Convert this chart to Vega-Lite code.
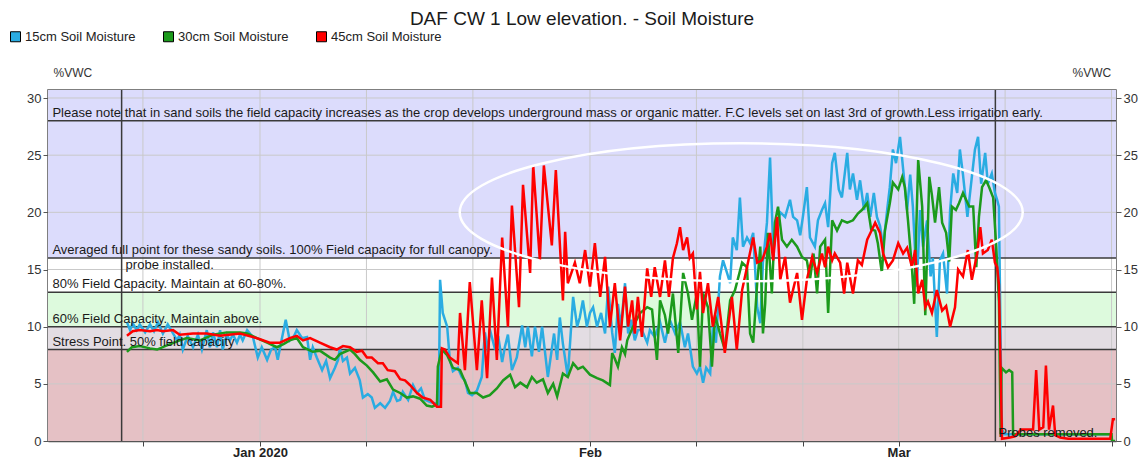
{
"$schema":"https://vega.github.io/schema/vega-lite/v6.json",
"width":1068,"height":351,
"autosize":"none",
"padding":{"left":48,"top":90,"right":24,"bottom":23},
"background":"white",
"title":{"text":"DAF CW 1 Low elevation. - Soil Moisture","anchor":"middle","frame":"group","fontSize":19,"fontWeight":"normal","font":"Liberation Sans","color":"#1a1a1a","offset":1},
"config":{"view":{"stroke":"#555","strokeWidth":1.5},"font":"Liberation Sans"},
"resolve":{"axis":{"y":"independent"}},
"datasets":{
"bands":[{"zone":"stress","v":0,"v2":8},{"zone":"low","v":8,"v2":10},{"zone":"mid","v":10,"v2":13},{"zone":"ok","v":13,"v2":16},{"zone":"full","v":16,"v2":31}],
"gridh":[{"v":5},{"v":15},{"v":20},{"v":25},{"v":30}],
"gridv":[{"t":"2019-12-21T00:00Z"},{"t":"2020-01-01T00:00Z"},{"t":"2020-01-11T00:00Z"},{"t":"2020-01-21T00:00Z"},{"t":"2020-02-01T00:00Z"},{"t":"2020-02-11T00:00Z"},{"t":"2020-02-21T00:00Z"},{"t":"2020-03-01T00:00Z"},{"t":"2020-03-11T00:00Z"},{"t":"2020-03-21T00:00Z"}],
"hlines":[{"v":8},{"v":10},{"v":13},{"v":16},{"v":28}],
"vlines":[{"t":"2019-12-19T00:00Z"},{"t":"2020-03-10T02:00Z"}],
"notesAbove":[
{"t":"2019-12-12T12:00Z","v":28,"label":"Please note that in sand soils the field capacity increases as the crop develops underground mass or organic matter. F.C levels set on last 3rd of growth.Less irrigation early."},
{"t":"2019-12-12T12:00Z","v":16,"label":"Averaged full point for these sandy soils. 100% Field capacity for full canopy."},
{"t":"2019-12-12T12:00Z","v":13,"label":"80% Field Capacity. Maintain at 60-80%."},
{"t":"2019-12-12T12:00Z","v":10,"label":"60% Field Capacity. Maintain above."},
{"t":"2019-12-12T12:00Z","v":8,"label":"Stress Point. 50% field capacity"},
{"t":"2020-03-10T09:00Z","v":0,"label":"Probes removed."}],
"notesBelow":[{"t":"2019-12-19T09:00Z","v":16,"label":"probe installed."}],
"ellipse":[{"t":"2020-02-15T05:00Z","v":20.0}],
"series":[{"s":"15cm Soil Moisture"},{"s":"30cm Soil Moisture"},{"s":"45cm Soil Moisture"}],
"d15":[
{"t":"2019-12-19T12:00Z","v":10.4},{"t":"2019-12-19T19:00Z","v":9.7},{"t":"2019-12-20T01:00Z","v":10.3},{"t":"2019-12-20T10:00Z","v":9.7},{"t":"2019-12-20T17:00Z","v":10.2},{"t":"2019-12-21T05:00Z","v":9.5},{"t":"2019-12-21T16:00Z","v":10.2},{"t":"2019-12-22T01:00Z","v":9.6},{"t":"2019-12-22T10:00Z","v":10.4},{"t":"2019-12-22T21:00Z","v":9.4},{"t":"2019-12-23T08:00Z","v":10.2},{"t":"2019-12-23T17:00Z","v":9.6},{"t":"2019-12-24T05:00Z","v":8.8},{"t":"2019-12-24T11:00Z","v":9.3},{"t":"2019-12-24T18:00Z","v":8.0},{"t":"2019-12-25T05:00Z","v":9.2},{"t":"2019-12-25T17:00Z","v":8.2},{"t":"2019-12-26T04:00Z","v":9.3},{"t":"2019-12-26T13:00Z","v":8.0},{"t":"2019-12-27T00:00Z","v":9.7},{"t":"2019-12-27T07:00Z","v":8.2},{"t":"2019-12-27T14:00Z","v":9.5},{"t":"2019-12-27T23:00Z","v":8.2},{"t":"2019-12-28T06:00Z","v":9.7},{"t":"2019-12-28T12:00Z","v":8.0},{"t":"2019-12-28T21:00Z","v":9.3},{"t":"2019-12-29T04:00Z","v":8.8},{"t":"2019-12-29T11:00Z","v":9.3},{"t":"2019-12-29T20:00Z","v":8.6},{"t":"2019-12-30T03:00Z","v":9.3},{"t":"2019-12-30T09:00Z","v":8.8},{"t":"2019-12-30T19:00Z","v":9.7},{"t":"2019-12-31T08:00Z","v":9.1},{"t":"2019-12-31T19:00Z","v":7.3},{"t":"2020-01-01T04:00Z","v":8.2},{"t":"2020-01-01T16:00Z","v":7.1},{"t":"2020-01-02T01:00Z","v":8.0},{"t":"2020-01-02T10:00Z","v":8.2},{"t":"2020-01-02T16:00Z","v":7.1},{"t":"2020-01-03T01:00Z","v":8.9},{"t":"2020-01-03T10:00Z","v":10.6},{"t":"2020-01-03T19:00Z","v":8.8},{"t":"2020-01-04T05:00Z","v":9.2},{"t":"2020-01-04T11:00Z","v":9.7},{"t":"2020-01-04T23:00Z","v":9.0},{"t":"2020-01-05T10:00Z","v":9.1},{"t":"2020-01-05T17:00Z","v":7.1},{"t":"2020-01-05T23:00Z","v":8.2},{"t":"2020-01-06T08:00Z","v":7.3},{"t":"2020-01-06T20:00Z","v":6.2},{"t":"2020-01-07T05:00Z","v":7.0},{"t":"2020-01-07T14:00Z","v":5.5},{"t":"2020-01-08T01:00Z","v":6.4},{"t":"2020-01-08T08:00Z","v":7.1},{"t":"2020-01-08T12:00Z","v":8.1},{"t":"2020-01-08T19:00Z","v":7.0},{"t":"2020-01-09T04:00Z","v":7.3},{"t":"2020-01-09T11:00Z","v":5.9},{"t":"2020-01-09T22:00Z","v":6.4},{"t":"2020-01-10T09:00Z","v":5.3},{"t":"2020-01-10T16:00Z","v":3.8},{"t":"2020-01-11T03:00Z","v":4.1},{"t":"2020-01-11T12:00Z","v":3.8},{"t":"2020-01-11T19:00Z","v":2.9},{"t":"2020-01-12T07:00Z","v":3.3},{"t":"2020-01-12T18:00Z","v":2.9},{"t":"2020-01-13T05:00Z","v":3.5},{"t":"2020-01-13T12:00Z","v":4.3},{"t":"2020-01-13T21:00Z","v":3.5},{"t":"2020-01-14T04:00Z","v":3.6},{"t":"2020-01-14T10:00Z","v":4.3},{"t":"2020-01-14T22:00Z","v":3.6},{"t":"2020-01-15T09:00Z","v":4.9},{"t":"2020-01-15T18:00Z","v":4.2},{"t":"2020-01-16T03:00Z","v":4.6},{"t":"2020-01-16T12:00Z","v":3.6},{"t":"2020-01-17T00:00Z","v":3.4},{"t":"2020-01-17T10:00Z","v":3.3},{"t":"2020-01-17T19:00Z","v":3.1},{"t":"2020-01-17T22:00Z","v":14.1},{"t":"2020-01-18T04:00Z","v":11.2},{"t":"2020-01-18T14:00Z","v":10.0},{"t":"2020-01-18T20:00Z","v":7.1},{"t":"2020-01-19T03:00Z","v":6.1},{"t":"2020-01-19T14:00Z","v":6.4},{"t":"2020-01-19T23:00Z","v":5.6},{"t":"2020-01-20T06:00Z","v":5.3},{"t":"2020-01-20T13:00Z","v":4.2},{"t":"2020-01-20T22:00Z","v":4.0},{"t":"2020-01-21T09:00Z","v":4.4},{"t":"2020-01-21T20:00Z","v":5.6},{"t":"2020-01-22T03:00Z","v":9.5},{"t":"2020-01-22T10:00Z","v":7.8},{"t":"2020-01-22T14:00Z","v":9.8},{"t":"2020-01-23T02:00Z","v":8.0},{"t":"2020-01-23T09:00Z","v":9.2},{"t":"2020-01-23T18:00Z","v":6.9},{"t":"2020-01-24T00:00Z","v":8.2},{"t":"2020-01-24T07:00Z","v":9.3},{"t":"2020-01-24T16:00Z","v":6.2},{"t":"2020-01-25T03:00Z","v":7.3},{"t":"2020-01-25T15:00Z","v":10.1},{"t":"2020-01-25T22:00Z","v":8.2},{"t":"2020-01-26T04:00Z","v":10.0},{"t":"2020-01-26T13:00Z","v":7.4},{"t":"2020-01-26T20:00Z","v":10.0},{"t":"2020-01-27T05:00Z","v":7.8},{"t":"2020-01-27T12:00Z","v":10.0},{"t":"2020-01-28T01:00Z","v":5.6},{"t":"2020-01-28T15:00Z","v":9.4},{"t":"2020-01-28T22:00Z","v":7.1},{"t":"2020-01-29T04:00Z","v":10.8},{"t":"2020-01-29T11:00Z","v":8.5},{"t":"2020-01-29T22:00Z","v":5.6},{"t":"2020-01-30T10:00Z","v":12.6},{"t":"2020-01-30T19:00Z","v":10.0},{"t":"2020-01-31T01:00Z","v":10.8},{"t":"2020-01-31T08:00Z","v":12.3},{"t":"2020-01-31T17:00Z","v":10.0},{"t":"2020-02-01T00:00Z","v":11.2},{"t":"2020-02-01T07:00Z","v":11.7},{"t":"2020-02-01T16:00Z","v":10.0},{"t":"2020-02-02T01:00Z","v":11.2},{"t":"2020-02-02T10:00Z","v":9.4},{"t":"2020-02-02T17:00Z","v":13.5},{"t":"2020-02-03T02:00Z","v":9.5},{"t":"2020-02-03T08:00Z","v":7.7},{"t":"2020-02-03T15:00Z","v":12.0},{"t":"2020-02-03T22:00Z","v":10.0},{"t":"2020-02-04T07:00Z","v":13.8},{"t":"2020-02-04T14:00Z","v":9.4},{"t":"2020-02-04T21:00Z","v":10.6},{"t":"2020-02-05T05:00Z","v":8.8},{"t":"2020-02-05T12:00Z","v":9.7},{"t":"2020-02-05T21:00Z","v":9.7},{"t":"2020-02-06T09:00Z","v":8.6},{"t":"2020-02-06T15:00Z","v":9.7},{"t":"2020-02-07T02:00Z","v":9.1},{"t":"2020-02-07T14:00Z","v":10.4},{"t":"2020-02-08T01:00Z","v":8.6},{"t":"2020-02-08T12:00Z","v":10.6},{"t":"2020-02-09T00:00Z","v":9.4},{"t":"2020-02-09T11:00Z","v":10.4},{"t":"2020-02-09T22:00Z","v":8.2},{"t":"2020-02-10T05:00Z","v":9.4},{"t":"2020-02-10T16:00Z","v":6.5},{"t":"2020-02-11T01:00Z","v":5.9},{"t":"2020-02-11T08:00Z","v":6.5},{"t":"2020-02-11T15:00Z","v":5.1},{"t":"2020-02-11T22:00Z","v":6.4},{"t":"2020-02-12T07:00Z","v":5.9},{"t":"2020-02-12T13:00Z","v":10.0},{"t":"2020-02-12T20:00Z","v":8.6},{"t":"2020-02-13T05:00Z","v":14.4},{"t":"2020-02-13T12:00Z","v":15.8},{"t":"2020-02-13T21:00Z","v":14.7},{"t":"2020-02-14T04:00Z","v":13.8},{"t":"2020-02-14T10:00Z","v":17.8},{"t":"2020-02-14T19:00Z","v":16.7},{"t":"2020-02-15T02:00Z","v":21.3},{"t":"2020-02-15T09:00Z","v":17.0},{"t":"2020-02-15T18:00Z","v":17.8},{"t":"2020-02-16T01:00Z","v":17.3},{"t":"2020-02-16T08:00Z","v":18.2},{"t":"2020-02-16T17:00Z","v":11.7},{"t":"2020-02-17T00:00Z","v":10.3},{"t":"2020-02-17T06:00Z","v":15.6},{"t":"2020-02-17T15:00Z","v":19.1},{"t":"2020-02-17T22:00Z","v":24.8},{"t":"2020-02-18T05:00Z","v":17.0},{"t":"2020-02-18T14:00Z","v":18.8},{"t":"2020-02-18T21:00Z","v":20.0},{"t":"2020-02-19T08:00Z","v":19.6},{"t":"2020-02-19T19:00Z","v":21.1},{"t":"2020-02-20T02:00Z","v":19.6},{"t":"2020-02-20T11:00Z","v":19.3},{"t":"2020-02-20T18:00Z","v":18.0},{"t":"2020-02-21T00:00Z","v":19.6},{"t":"2020-02-21T09:00Z","v":22.2},{"t":"2020-02-21T16:00Z","v":17.8},{"t":"2020-02-22T03:00Z","v":17.0},{"t":"2020-02-22T10:00Z","v":19.3},{"t":"2020-02-22T19:00Z","v":20.2},{"t":"2020-02-23T02:00Z","v":20.8},{"t":"2020-02-23T09:00Z","v":18.7},{"t":"2020-02-23T18:00Z","v":24.3},{"t":"2020-02-24T00:00Z","v":25.2},{"t":"2020-02-24T09:00Z","v":22.0},{"t":"2020-02-24T16:00Z","v":21.3},{"t":"2020-02-25T04:00Z","v":25.2},{"t":"2020-02-25T10:00Z","v":22.0},{"t":"2020-02-25T17:00Z","v":23.4},{"t":"2020-02-26T02:00Z","v":21.1},{"t":"2020-02-26T09:00Z","v":22.8},{"t":"2020-02-26T18:00Z","v":20.2},{"t":"2020-02-27T01:00Z","v":21.7},{"t":"2020-02-27T08:00Z","v":19.6},{"t":"2020-02-27T16:00Z","v":21.7},{"t":"2020-02-27T23:00Z","v":19.6},{"t":"2020-02-28T06:00Z","v":18.8},{"t":"2020-02-28T13:00Z","v":17.0},{"t":"2020-02-28T22:00Z","v":20.2},{"t":"2020-02-29T04:00Z","v":22.2},{"t":"2020-02-29T11:00Z","v":25.5},{"t":"2020-02-29T18:00Z","v":24.3},{"t":"2020-03-01T03:00Z","v":26.6},{"t":"2020-03-01T10:00Z","v":23.8},{"t":"2020-03-01T19:00Z","v":20.2},{"t":"2020-03-02T02:00Z","v":23.3},{"t":"2020-03-02T08:00Z","v":20.5},{"t":"2020-03-02T17:00Z","v":13.5},{"t":"2020-03-03T00:00Z","v":20.2},{"t":"2020-03-03T07:00Z","v":17.0},{"t":"2020-03-03T16:00Z","v":19.3},{"t":"2020-03-04T00:00Z","v":14.4},{"t":"2020-03-04T05:00Z","v":16.0},{"t":"2020-03-04T14:00Z","v":9.1},{"t":"2020-03-04T21:00Z","v":15.8},{"t":"2020-03-05T04:00Z","v":16.4},{"t":"2020-03-05T13:00Z","v":12.9},{"t":"2020-03-05T20:00Z","v":20.2},{"t":"2020-03-06T03:00Z","v":23.4},{"t":"2020-03-06T12:00Z","v":21.7},{"t":"2020-03-06T18:00Z","v":25.5},{"t":"2020-03-07T01:00Z","v":23.3},{"t":"2020-03-07T11:00Z","v":19.6},{"t":"2020-03-07T21:00Z","v":23.1},{"t":"2020-03-08T04:00Z","v":25.5},{"t":"2020-03-08T11:00Z","v":26.6},{"t":"2020-03-08T18:00Z","v":22.5},{"t":"2020-03-09T03:00Z","v":25.2},{"t":"2020-03-09T09:00Z","v":22.5},{"t":"2020-03-09T18:00Z","v":23.4},{"t":"2020-03-10T01:00Z","v":21.7},{"t":"2020-03-10T06:00Z","v":21.1},{"t":"2020-03-10T10:00Z","v":20.5},{"t":"2020-03-10T15:00Z","v":5.0},{"t":"2020-03-10T17:00Z","v":1.0},{"t":"2020-03-10T22:00Z","v":0.6},{"t":"2020-03-21T00:00Z","v":0.6}],
"d30":[
{"t":"2019-12-19T12:00Z","v":7.8},{"t":"2019-12-19T23:00Z","v":8.2},{"t":"2019-12-20T17:00Z","v":8.3},{"t":"2019-12-21T16:00Z","v":8.1},{"t":"2019-12-22T08:00Z","v":8.0},{"t":"2019-12-23T02:00Z","v":8.3},{"t":"2019-12-24T11:00Z","v":8.8},{"t":"2019-12-25T03:00Z","v":9.0},{"t":"2019-12-26T09:00Z","v":8.8},{"t":"2019-12-27T14:00Z","v":9.3},{"t":"2019-12-28T21:00Z","v":9.5},{"t":"2019-12-30T03:00Z","v":9.5},{"t":"2019-12-30T19:00Z","v":9.4},{"t":"2019-12-31T17:00Z","v":9.0},{"t":"2020-01-01T16:00Z","v":8.6},{"t":"2020-01-02T14:00Z","v":8.2},{"t":"2020-01-03T06:00Z","v":8.5},{"t":"2020-01-03T19:00Z","v":8.8},{"t":"2020-01-04T11:00Z","v":9.0},{"t":"2020-01-05T01:00Z","v":8.2},{"t":"2020-01-05T23:00Z","v":7.8},{"t":"2020-01-06T15:00Z","v":7.9},{"t":"2020-01-07T14:00Z","v":7.3},{"t":"2020-01-08T01:00Z","v":7.1},{"t":"2020-01-08T12:00Z","v":7.6},{"t":"2020-01-09T11:00Z","v":8.0},{"t":"2020-01-09T22:00Z","v":7.6},{"t":"2020-01-10T09:00Z","v":7.1},{"t":"2020-01-11T01:00Z","v":6.6},{"t":"2020-01-11T15:00Z","v":6.0},{"t":"2020-01-12T07:00Z","v":5.2},{"t":"2020-01-12T22:00Z","v":5.4},{"t":"2020-01-13T12:00Z","v":4.5},{"t":"2020-01-14T04:00Z","v":4.2},{"t":"2020-01-14T19:00Z","v":3.8},{"t":"2020-01-15T09:00Z","v":3.9},{"t":"2020-01-16T01:00Z","v":3.7},{"t":"2020-01-16T16:00Z","v":3.1},{"t":"2020-01-17T04:00Z","v":3.0},{"t":"2020-01-17T15:00Z","v":3.2},{"t":"2020-01-17T17:00Z","v":6.5},{"t":"2020-01-18T02:00Z","v":8.0},{"t":"2020-01-18T14:00Z","v":7.5},{"t":"2020-01-19T03:00Z","v":6.4},{"t":"2020-01-19T19:00Z","v":6.2},{"t":"2020-01-20T06:00Z","v":5.2},{"t":"2020-01-20T17:00Z","v":4.2},{"t":"2020-01-21T09:00Z","v":4.2},{"t":"2020-01-21T23:00Z","v":3.8},{"t":"2020-01-22T14:00Z","v":4.0},{"t":"2020-01-23T06:00Z","v":4.6},{"t":"2020-01-23T20:00Z","v":5.3},{"t":"2020-01-24T12:00Z","v":5.8},{"t":"2020-01-24T23:00Z","v":4.7},{"t":"2020-01-25T11:00Z","v":5.1},{"t":"2020-01-26T02:00Z","v":4.7},{"t":"2020-01-26T13:00Z","v":5.6},{"t":"2020-01-27T00:00Z","v":5.1},{"t":"2020-01-27T14:00Z","v":5.4},{"t":"2020-01-28T01:00Z","v":4.2},{"t":"2020-01-28T13:00Z","v":5.0},{"t":"2020-01-28T22:00Z","v":3.9},{"t":"2020-01-29T11:00Z","v":5.9},{"t":"2020-01-29T22:00Z","v":5.6},{"t":"2020-01-30T10:00Z","v":6.8},{"t":"2020-01-30T21:00Z","v":6.3},{"t":"2020-01-31T08:00Z","v":6.5},{"t":"2020-02-01T00:00Z","v":5.8},{"t":"2020-02-01T16:00Z","v":5.5},{"t":"2020-02-02T05:00Z","v":5.3},{"t":"2020-02-02T17:00Z","v":5.0},{"t":"2020-02-02T21:00Z","v":4.9},{"t":"2020-02-03T02:00Z","v":7.7},{"t":"2020-02-03T08:00Z","v":7.2},{"t":"2020-02-03T15:00Z","v":6.5},{"t":"2020-02-04T00:00Z","v":8.2},{"t":"2020-02-04T07:00Z","v":7.6},{"t":"2020-02-04T12:00Z","v":8.8},{"t":"2020-02-05T01:00Z","v":10.0},{"t":"2020-02-05T17:00Z","v":11.2},{"t":"2020-02-06T09:00Z","v":11.7},{"t":"2020-02-06T20:00Z","v":11.5},{"t":"2020-02-07T07:00Z","v":7.1},{"t":"2020-02-07T14:00Z","v":12.3},{"t":"2020-02-08T01:00Z","v":11.0},{"t":"2020-02-08T08:00Z","v":9.4},{"t":"2020-02-08T19:00Z","v":12.9},{"t":"2020-02-09T07:00Z","v":7.7},{"t":"2020-02-09T18:00Z","v":14.7},{"t":"2020-02-10T05:00Z","v":12.9},{"t":"2020-02-10T14:00Z","v":10.6},{"t":"2020-02-11T01:00Z","v":12.9},{"t":"2020-02-11T08:00Z","v":6.5},{"t":"2020-02-11T15:00Z","v":12.9},{"t":"2020-02-12T02:00Z","v":11.7},{"t":"2020-02-12T11:00Z","v":6.5},{"t":"2020-02-12T18:00Z","v":11.0},{"t":"2020-02-13T05:00Z","v":9.4},{"t":"2020-02-13T16:00Z","v":8.0},{"t":"2020-02-14T04:00Z","v":12.3},{"t":"2020-02-14T15:00Z","v":13.2},{"t":"2020-02-15T07:00Z","v":15.6},{"t":"2020-02-15T18:00Z","v":15.2},{"t":"2020-02-16T01:00Z","v":9.4},{"t":"2020-02-16T08:00Z","v":8.6},{"t":"2020-02-16T17:00Z","v":13.8},{"t":"2020-02-17T00:00Z","v":17.0},{"t":"2020-02-17T06:00Z","v":9.4},{"t":"2020-02-17T11:00Z","v":12.0},{"t":"2020-02-17T17:00Z","v":18.2},{"t":"2020-02-18T02:00Z","v":12.9},{"t":"2020-02-18T09:00Z","v":19.1},{"t":"2020-02-18T16:00Z","v":20.5},{"t":"2020-02-19T01:00Z","v":17.6},{"t":"2020-02-19T12:00Z","v":17.0},{"t":"2020-02-19T23:00Z","v":17.6},{"t":"2020-02-20T11:00Z","v":17.0},{"t":"2020-02-20T22:00Z","v":16.1},{"t":"2020-02-21T09:00Z","v":15.8},{"t":"2020-02-21T16:00Z","v":14.1},{"t":"2020-02-22T00:00Z","v":16.4},{"t":"2020-02-22T08:00Z","v":12.9},{"t":"2020-02-22T15:00Z","v":17.0},{"t":"2020-02-23T02:00Z","v":17.6},{"t":"2020-02-23T09:00Z","v":11.2},{"t":"2020-02-23T18:00Z","v":19.3},{"t":"2020-02-24T05:00Z","v":18.4},{"t":"2020-02-24T16:00Z","v":19.3},{"t":"2020-02-25T04:00Z","v":19.1},{"t":"2020-02-25T17:00Z","v":19.3},{"t":"2020-02-26T04:00Z","v":19.9},{"t":"2020-02-26T13:00Z","v":20.2},{"t":"2020-02-27T01:00Z","v":20.8},{"t":"2020-02-27T10:00Z","v":18.5},{"t":"2020-02-27T19:00Z","v":18.4},{"t":"2020-02-28T01:00Z","v":17.3},{"t":"2020-02-28T10:00Z","v":14.7},{"t":"2020-02-28T17:00Z","v":18.4},{"t":"2020-02-29T04:00Z","v":20.8},{"t":"2020-02-29T11:00Z","v":22.6},{"t":"2020-02-29T23:00Z","v":22.0},{"t":"2020-03-01T08:00Z","v":23.1},{"t":"2020-03-01T14:00Z","v":22.2},{"t":"2020-03-01T21:00Z","v":19.3},{"t":"2020-03-02T06:00Z","v":15.1},{"t":"2020-03-02T11:00Z","v":12.0},{"t":"2020-03-02T20:00Z","v":24.6},{"t":"2020-03-03T05:00Z","v":20.5},{"t":"2020-03-03T12:00Z","v":11.0},{"t":"2020-03-03T21:00Z","v":23.1},{"t":"2020-03-04T03:00Z","v":21.5},{"t":"2020-03-04T10:00Z","v":19.1},{"t":"2020-03-04T19:00Z","v":22.2},{"t":"2020-03-05T02:00Z","v":19.1},{"t":"2020-03-05T11:00Z","v":18.2},{"t":"2020-03-05T18:00Z","v":15.7},{"t":"2020-03-06T00:00Z","v":20.5},{"t":"2020-03-06T09:00Z","v":20.2},{"t":"2020-03-06T16:00Z","v":20.8},{"t":"2020-03-07T01:00Z","v":21.7},{"t":"2020-03-07T15:00Z","v":20.5},{"t":"2020-03-08T00:00Z","v":20.5},{"t":"2020-03-08T07:00Z","v":15.2},{"t":"2020-03-08T13:00Z","v":19.6},{"t":"2020-03-08T20:00Z","v":22.2},{"t":"2020-03-09T05:00Z","v":22.8},{"t":"2020-03-09T12:00Z","v":22.2},{"t":"2020-03-09T21:00Z","v":21.3},{"t":"2020-03-10T04:00Z","v":17.0},{"t":"2020-03-10T10:00Z","v":12.2},{"t":"2020-03-10T14:00Z","v":0.6},{"t":"2020-03-10T16:00Z","v":6.4},{"t":"2020-03-11T02:00Z","v":6.0},{"t":"2020-03-11T09:00Z","v":6.2},{"t":"2020-03-11T16:00Z","v":6.0},{"t":"2020-03-11T18:00Z","v":0.6},{"t":"2020-03-21T00:00Z","v":0.6},{"t":"2020-03-21T01:00Z","v":0.0},{"t":"2020-03-21T08:00Z","v":0.0}],
"d45":[
{"t":"2019-12-19T12:00Z","v":9.2},{"t":"2019-12-20T01:00Z","v":9.6},{"t":"2019-12-20T17:00Z","v":9.7},{"t":"2019-12-21T16:00Z","v":9.6},{"t":"2019-12-22T08:00Z","v":9.7},{"t":"2019-12-22T21:00Z","v":9.6},{"t":"2019-12-23T20:00Z","v":9.7},{"t":"2019-12-24T11:00Z","v":9.3},{"t":"2019-12-25T17:00Z","v":9.4},{"t":"2019-12-27T00:00Z","v":9.4},{"t":"2019-12-28T06:00Z","v":9.2},{"t":"2019-12-30T03:00Z","v":9.4},{"t":"2019-12-31T08:00Z","v":9.1},{"t":"2020-01-01T00:00Z","v":8.9},{"t":"2020-01-01T22:00Z","v":8.6},{"t":"2020-01-02T21:00Z","v":8.6},{"t":"2020-01-03T19:00Z","v":9.0},{"t":"2020-01-04T11:00Z","v":9.2},{"t":"2020-01-05T01:00Z","v":8.8},{"t":"2020-01-05T17:00Z","v":9.0},{"t":"2020-01-06T15:00Z","v":8.6},{"t":"2020-01-07T14:00Z","v":8.2},{"t":"2020-01-08T05:00Z","v":8.0},{"t":"2020-01-08T19:00Z","v":8.3},{"t":"2020-01-09T11:00Z","v":8.2},{"t":"2020-01-10T02:00Z","v":7.8},{"t":"2020-01-10T14:00Z","v":7.9},{"t":"2020-01-11T01:00Z","v":7.3},{"t":"2020-01-11T12:00Z","v":7.3},{"t":"2020-01-12T02:00Z","v":6.8},{"t":"2020-01-12T13:00Z","v":6.8},{"t":"2020-01-13T00:00Z","v":6.2},{"t":"2020-01-13T16:00Z","v":6.1},{"t":"2020-01-14T04:00Z","v":5.4},{"t":"2020-01-14T15:00Z","v":5.3},{"t":"2020-01-15T02:00Z","v":4.9},{"t":"2020-01-15T18:00Z","v":4.2},{"t":"2020-01-16T07:00Z","v":3.8},{"t":"2020-01-17T00:00Z","v":3.6},{"t":"2020-01-17T15:00Z","v":3.0},{"t":"2020-01-18T00:00Z","v":3.0},{"t":"2020-01-18T02:00Z","v":8.1},{"t":"2020-01-18T09:00Z","v":8.0},{"t":"2020-01-18T20:00Z","v":7.3},{"t":"2020-01-19T14:00Z","v":6.8},{"t":"2020-01-19T19:00Z","v":11.2},{"t":"2020-01-20T06:00Z","v":6.2},{"t":"2020-01-20T17:00Z","v":13.9},{"t":"2020-01-21T09:00Z","v":6.2},{"t":"2020-01-21T20:00Z","v":12.3},{"t":"2020-01-22T08:00Z","v":5.5},{"t":"2020-01-22T19:00Z","v":14.3},{"t":"2020-01-23T06:00Z","v":7.1},{"t":"2020-01-23T18:00Z","v":17.8},{"t":"2020-01-24T07:00Z","v":10.0},{"t":"2020-01-24T16:00Z","v":20.6},{"t":"2020-01-25T08:00Z","v":11.7},{"t":"2020-01-25T17:00Z","v":22.4},{"t":"2020-01-26T09:00Z","v":14.7},{"t":"2020-01-26T16:00Z","v":24.1},{"t":"2020-01-27T07:00Z","v":15.8},{"t":"2020-01-27T16:00Z","v":24.1},{"t":"2020-01-28T10:00Z","v":17.1},{"t":"2020-01-28T19:00Z","v":23.7},{"t":"2020-01-29T11:00Z","v":12.3},{"t":"2020-01-29T16:00Z","v":18.3},{"t":"2020-01-29T22:00Z","v":13.8},{"t":"2020-01-30T14:00Z","v":15.6},{"t":"2020-01-31T01:00Z","v":13.8},{"t":"2020-01-31T13:00Z","v":16.7},{"t":"2020-02-01T00:00Z","v":13.5},{"t":"2020-02-01T11:00Z","v":17.3},{"t":"2020-02-01T23:00Z","v":12.6},{"t":"2020-02-02T10:00Z","v":16.1},{"t":"2020-02-02T21:00Z","v":10.0},{"t":"2020-02-03T08:00Z","v":13.8},{"t":"2020-02-03T20:00Z","v":8.8},{"t":"2020-02-04T07:00Z","v":13.5},{"t":"2020-02-04T14:00Z","v":10.0},{"t":"2020-02-04T23:00Z","v":12.3},{"t":"2020-02-05T05:00Z","v":9.4},{"t":"2020-02-05T12:00Z","v":12.6},{"t":"2020-02-05T21:00Z","v":9.1},{"t":"2020-02-06T09:00Z","v":15.1},{"t":"2020-02-06T18:00Z","v":12.6},{"t":"2020-02-07T02:00Z","v":15.2},{"t":"2020-02-07T14:00Z","v":12.6},{"t":"2020-02-08T01:00Z","v":15.8},{"t":"2020-02-08T10:00Z","v":12.6},{"t":"2020-02-08T19:00Z","v":16.0},{"t":"2020-02-09T04:00Z","v":17.3},{"t":"2020-02-09T11:00Z","v":18.7},{"t":"2020-02-09T18:00Z","v":16.7},{"t":"2020-02-10T03:00Z","v":17.8},{"t":"2020-02-10T09:00Z","v":16.0},{"t":"2020-02-10T16:00Z","v":16.4},{"t":"2020-02-11T01:00Z","v":11.5},{"t":"2020-02-11T08:00Z","v":14.8},{"t":"2020-02-11T15:00Z","v":11.2},{"t":"2020-02-12T02:00Z","v":13.8},{"t":"2020-02-12T13:00Z","v":10.0},{"t":"2020-02-13T01:00Z","v":12.6},{"t":"2020-02-13T16:00Z","v":7.7},{"t":"2020-02-14T08:00Z","v":12.6},{"t":"2020-02-14T19:00Z","v":8.0},{"t":"2020-02-15T07:00Z","v":13.2},{"t":"2020-02-15T18:00Z","v":15.2},{"t":"2020-02-16T08:00Z","v":17.8},{"t":"2020-02-16T17:00Z","v":15.6},{"t":"2020-02-17T04:00Z","v":15.8},{"t":"2020-02-17T15:00Z","v":17.0},{"t":"2020-02-17T22:00Z","v":18.2},{"t":"2020-02-18T05:00Z","v":15.8},{"t":"2020-02-18T14:00Z","v":19.6},{"t":"2020-02-18T21:00Z","v":14.1},{"t":"2020-02-19T08:00Z","v":16.1},{"t":"2020-02-19T19:00Z","v":12.1},{"t":"2020-02-20T11:00Z","v":14.7},{"t":"2020-02-20T22:00Z","v":10.6},{"t":"2020-02-21T09:00Z","v":14.1},{"t":"2020-02-21T21:00Z","v":16.1},{"t":"2020-02-22T08:00Z","v":14.7},{"t":"2020-02-22T19:00Z","v":16.4},{"t":"2020-02-23T02:00Z","v":15.2},{"t":"2020-02-23T09:00Z","v":17.0},{"t":"2020-02-23T18:00Z","v":15.8},{"t":"2020-02-24T00:00Z","v":16.4},{"t":"2020-02-24T12:00Z","v":15.6},{"t":"2020-02-24T21:00Z","v":12.9},{"t":"2020-02-25T04:00Z","v":15.6},{"t":"2020-02-25T17:00Z","v":12.9},{"t":"2020-02-26T04:00Z","v":15.8},{"t":"2020-02-26T13:00Z","v":15.4},{"t":"2020-02-27T01:00Z","v":17.6},{"t":"2020-02-27T12:00Z","v":18.5},{"t":"2020-02-27T19:00Z","v":19.1},{"t":"2020-02-28T06:00Z","v":18.2},{"t":"2020-02-28T13:00Z","v":16.4},{"t":"2020-02-29T00:00Z","v":15.2},{"t":"2020-02-29T11:00Z","v":15.8},{"t":"2020-02-29T23:00Z","v":17.3},{"t":"2020-03-01T10:00Z","v":16.4},{"t":"2020-03-01T19:00Z","v":16.9},{"t":"2020-03-02T06:00Z","v":15.2},{"t":"2020-03-02T13:00Z","v":16.7},{"t":"2020-03-02T20:00Z","v":12.9},{"t":"2020-03-03T05:00Z","v":14.1},{"t":"2020-03-03T12:00Z","v":11.7},{"t":"2020-03-03T18:00Z","v":12.2},{"t":"2020-03-04T03:00Z","v":11.2},{"t":"2020-03-04T14:00Z","v":13.2},{"t":"2020-03-05T02:00Z","v":11.4},{"t":"2020-03-05T11:00Z","v":11.8},{"t":"2020-03-05T20:00Z","v":10.0},{"t":"2020-03-06T07:00Z","v":11.7},{"t":"2020-03-06T14:00Z","v":15.0},{"t":"2020-03-07T01:00Z","v":14.4},{"t":"2020-03-07T12:00Z","v":16.7},{"t":"2020-03-07T21:00Z","v":14.1},{"t":"2020-03-08T09:00Z","v":16.4},{"t":"2020-03-08T16:00Z","v":18.7},{"t":"2020-03-08T22:00Z","v":16.4},{"t":"2020-03-09T09:00Z","v":16.7},{"t":"2020-03-09T18:00Z","v":17.6},{"t":"2020-03-10T01:00Z","v":15.6},{"t":"2020-03-10T06:00Z","v":15.2},{"t":"2020-03-10T10:00Z","v":13.7},{"t":"2020-03-10T17:00Z","v":0.2},{"t":"2020-03-11T11:00Z","v":0.3},{"t":"2020-03-11T22:00Z","v":0.4},{"t":"2020-03-12T12:00Z","v":1.0},{"t":"2020-03-13T15:00Z","v":1.0},{"t":"2020-03-13T22:00Z","v":6.2},{"t":"2020-03-14T05:00Z","v":1.0},{"t":"2020-03-14T14:00Z","v":1.2},{"t":"2020-03-14T20:00Z","v":6.6},{"t":"2020-03-15T03:00Z","v":1.0},{"t":"2020-03-15T12:00Z","v":3.1},{"t":"2020-03-15T17:00Z","v":0.5},{"t":"2020-03-16T04:00Z","v":0.3},{"t":"2020-03-16T22:00Z","v":0.2},{"t":"2020-03-20T21:00Z","v":0.2},{"t":"2020-03-21T03:00Z","v":1.9},{"t":"2020-03-21T08:00Z","v":1.9}]
},
"layer":[
{"data":{"name":"bands"},"mark":{"type":"rect","clip":true},
 "encoding":{
  "y":{"field":"v","type":"quantitative","scale":{"domain":[0,30.7],"nice":false,"zero":false},
       "axis":{"orient":"left","values":[0,5,10,15,20,25,30],"tickSize":5,"tickColor":"#555","labelPadding":2,"labelFontSize":13,"labelColor":"#333","labelFont":"Liberation Sans","domain":false,"grid":false,
               "title":"%VWC","titleAngle":0,"titleX":5,"titleY":-18,"titleAlign":"left","titleBaseline":"middle","titleFontSize":12,"titleFontWeight":"normal","titleColor":"#333","titleFont":"Liberation Sans"}},
  "y2":{"field":"v2"},
  "color":{"field":"zone","type":"nominal","legend":null,"scale":{"domain":["stress","low","mid","ok","full"],"range":["#e5c1c5","#e3dde3","#ddfadd","#ffffff","#dcdcfc"]}}}},
{"data":{"name":"gridh"},"mark":{"type":"rule","color":"#c9c9c9","strokeWidth":1},
 "encoding":{"y":{"field":"v","type":"quantitative","axis":null}}},
{"data":{"name":"gridv"},"mark":{"type":"rule","color":"#c9c9c9","strokeWidth":1},
 "encoding":{"x":{"field":"t","type":"temporal","scale":{"type":"utc","domain":[{"year":2019,"month":12,"date":12,"hours":2,"utc":true},{"year":2020,"month":3,"date":21,"hours":10,"utc":true}]},
   "axis":{"orient":"bottom","values":[{"year":2019,"month":12,"date":21,"utc":true},{"year":2020,"month":1,"date":1,"utc":true},{"year":2020,"month":1,"date":11,"utc":true},{"year":2020,"month":1,"date":21,"utc":true},{"year":2020,"month":2,"date":1,"utc":true},{"year":2020,"month":2,"date":11,"utc":true},{"year":2020,"month":2,"date":21,"utc":true},{"year":2020,"month":3,"date":1,"utc":true},{"year":2020,"month":3,"date":11,"utc":true},{"year":2020,"month":3,"date":21,"utc":true}],
     "labelExpr":"utcdate(datum.value) == 1 ? (utcmonth(datum.value) == 0 ? 'Jan 2020' : utcFormat(datum.value, '%b')) : ''",
     "tickSize":5,"tickColor":"#444","domain":true,"domainColor":"#555","domainWidth":1.5,"labelPadding":0,"labelFontSize":13,"labelFontWeight":"bold","labelColor":"#222","labelFont":"Liberation Sans","grid":false,"title":null,"labelOverlap":false,"labelFlush":false}}}},
{"data":{"name":"hlines"},"mark":{"type":"rule","color":"#3a3a3a","strokeWidth":1.5},
 "encoding":{"y":{"field":"v","type":"quantitative",
   "axis":{"orient":"right","values":[0,5,10,15,20,25,30],"tickSize":5,"tickColor":"#555","labelPadding":2,"labelFontSize":13,"labelColor":"#333","labelFont":"Liberation Sans","domain":false,"grid":false,
           "title":"%VWC","titleAngle":0,"titleX":-44,"titleY":-18,"titleAlign":"left","titleBaseline":"middle","titleFontSize":12,"titleFontWeight":"normal","titleColor":"#333","titleFont":"Liberation Sans"}}}},
{"data":{"name":"vlines"},"mark":{"type":"rule","color":"#3a3a3a","strokeWidth":1.5},
 "encoding":{"x":{"field":"t","type":"temporal","scale":{"type":"utc"}}}},
{"data":{"name":"d15"},"mark":{"type":"line","color":"#2aace2","strokeWidth":2.5,"clip":true},
 "encoding":{"x":{"field":"t","type":"temporal","scale":{"type":"utc"}},"y":{"field":"v","type":"quantitative","axis":null}}},
{"data":{"name":"d30"},"mark":{"type":"line","color":"#1c9a1c","strokeWidth":2.5,"clip":true},
 "encoding":{"x":{"field":"t","type":"temporal","scale":{"type":"utc"}},"y":{"field":"v","type":"quantitative","axis":null}}},
{"data":{"name":"d45"},"mark":{"type":"line","color":"#ff0000","strokeWidth":2.5,"clip":true},
 "encoding":{"x":{"field":"t","type":"temporal","scale":{"type":"utc"}},"y":{"field":"v","type":"quantitative","axis":null}}},
{"data":{"name":"ellipse"},"mark":{"type":"point","filled":false,"stroke":"white","strokeWidth":2.5,"opacity":1,"size":316969,
   "shape":"M-1,0C-1,-0.1353,-0.5523,-0.245,0,-0.245C0.5523,-0.245,1,-0.1353,1,0C1,0.1353,0.5523,0.245,0,0.245C-0.5523,0.245,-1,0.1353,-1,0Z"},
 "encoding":{"x":{"field":"t","type":"temporal","scale":{"type":"utc"}},"y":{"field":"v","type":"quantitative","axis":null}}},
{"data":{"name":"notesAbove"},"mark":{"type":"text","align":"left","baseline":"bottom","dy":-1,"fontSize":13,"font":"Liberation Sans","color":"#1a1a1a"},
 "encoding":{"x":{"field":"t","type":"temporal","scale":{"type":"utc"}},"y":{"field":"v","type":"quantitative","axis":null},"text":{"field":"label"}}},
{"data":{"name":"notesBelow"},"mark":{"type":"text","align":"left","baseline":"top","dy":1,"fontSize":13,"font":"Liberation Sans","color":"#1a1a1a"},
 "encoding":{"x":{"field":"t","type":"temporal","scale":{"type":"utc"}},"y":{"field":"v","type":"quantitative","axis":null},"text":{"field":"label"}}},
{"data":{"name":"series"},"mark":{"type":"point","shape":"square","filled":true,"opacity":0},
 "encoding":{"fill":{"field":"s","type":"nominal","scale":{"domain":["15cm Soil Moisture","30cm Soil Moisture","45cm Soil Moisture"],"range":["#2aace2","#1c9a1c","#ff0000"]},
   "legend":{"orient":"none","legendX":-39,"legendY":-60,"direction":"horizontal","title":null,"symbolType":"square","symbolSize":100,"labelFontSize":13,"labelFont":"Liberation Sans","labelColor":"#222","labelOffset":3,"columnPadding":25,"padding":0,"labelLimit":300,
     "encode":{"symbols":{"update":{"stroke":{"value":"#000"},"strokeWidth":{"value":1},"opacity":{"value":1}}}}}}}}
]
}
